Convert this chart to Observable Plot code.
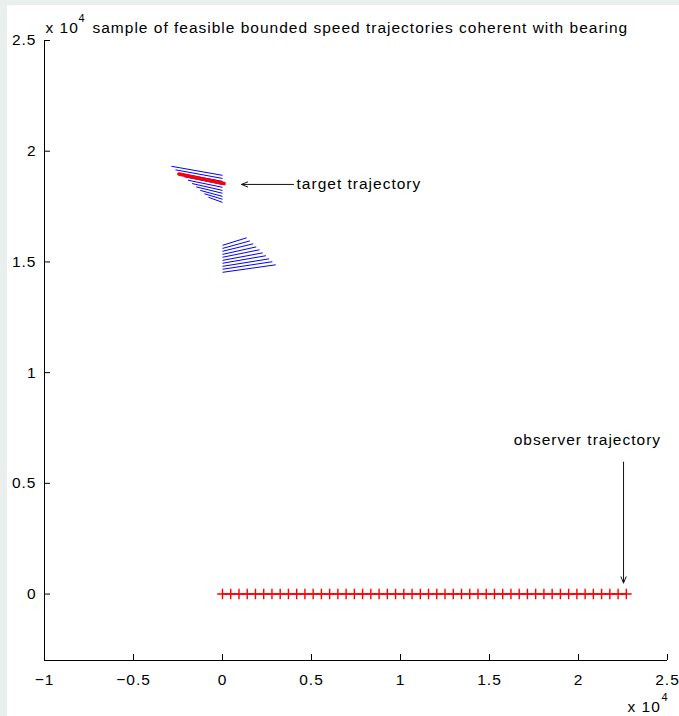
<!DOCTYPE html>
<html>
<head>
<meta charset="utf-8">
<script src="https://cdn.jsdelivr.net/npm/d3@7"></script>
<script src="https://cdn.jsdelivr.net/npm/@observablehq/plot@0.6"></script>
<style>
  html, body { margin: 0; padding: 0; width: 679px; height: 716px; overflow: hidden; background: #e9efed; }
  #panel { position: absolute; left: 7px; top: 5px; width: 672px; height: 711px; background: #ffffff; }
  #chart { position: absolute; left: 0; top: 0; }
</style>
</head>
<body>
<div id="panel"></div>
<div id="chart"></div>
<script>
// ---- axis ticks (metres; labels in units of 10^4) ----
const xTicks = [-10000, -5000, 0, 5000, 10000, 15000, 20000, 25000];
const xTickLabels = ["−1", "−0.5", "0", "0.5", "1", "1.5", "2", "2.5"];
const yTicks = [0, 5000, 10000, 15000, 20000, 25000];
const yTickLabels = ["0", "0.5", "1", "1.5", "2", "2.5"];

// ---- observer trajectory (red, + markers) ----
const observerX = [0, 463, 926, 1389, 1852, 2315, 2778, 3241, 3704, 4167,
  4630, 5093, 5556, 6019, 6482, 6945, 7408, 7871, 8334, 8797,
  9260, 9723, 10186, 10649, 11112, 11575, 12038, 12501, 12964, 13427,
  13890, 14353, 14816, 15279, 15742, 16205, 16668, 17131, 17594, 18057,
  18520, 18983, 19446, 19909, 20372, 20835, 21298, 21761, 22224, 22687];
const observerY = 0;

// ---- true target trajectory (thick red) ----
const targetX = [-2450, 90];
const targetY = [18970, 18540];

// ---- upper sample of feasible trajectories (blue) ----
const upperStartX = [-2870, -2640, -2400, -2170, -1940, -1710, -1480, -1250, -1020, -790];
const upperStartY = [19320, 19160, 19000, 18850, 18690, 18540, 18390, 18230, 18080, 17920];
const upperEndX   = [0, 0, 0, 0, 0, 0, 0, 0, 0, 0];
const upperEndY   = [18910, 18770, 18640, 18500, 18370, 18230, 18100, 17960, 17830, 17690];

// ---- lower sample of feasible trajectories (blue) ----
const lowerStartX = [0, 0, 0, 0, 0, 0, 0, 0, 0, 0];
const lowerStartY = [15750, 15610, 15480, 15340, 15210, 15070, 14940, 14800, 14670, 14530];
const lowerEndX   = [1360, 1540, 1720, 1900, 2080, 2260, 2440, 2620, 2800, 2990];
const lowerEndY   = [16090, 15950, 15820, 15680, 15550, 15410, 15280, 15140, 15010, 14870];

// ---- annotations ----
const arrowFromX = [3990, 22530];
const arrowFromY = [18500, 5960];
const arrowToX   = [1070, 22530];
const arrowToY   = [18500, 500];
const targetLabel = {t: "target trajectory", x: 4160, y: 18500};
const observerLabel = {t: "observer trajectory", x: 20500, y: 6950};
const titleText = "sample of feasible bounded speed trajectories coherent with bearing";
const exponentBase = "x 10";
const exponentPower = "4";

// ---- tables built from the arrays ----
const observer = observerX.map(x => ({x, y: observerY}));
const target = targetX.map((x, i) => ({x, y: targetY[i]}));
const upper = upperStartX.map((x1, i) => ({x1, y1: upperStartY[i], x2: upperEndX[i], y2: upperEndY[i]}));
const lower = lowerStartX.map((x1, i) => ({x1, y1: lowerStartY[i], x2: lowerEndX[i], y2: lowerEndY[i]}));
const arrows = arrowFromX.map((x1, i) => ({x1, y1: arrowFromY[i], x2: arrowToX[i], y2: arrowToY[i]}));

const font = "'Liberation Sans', Arial, Helvetica, sans-serif";

const chart = Plot.plot({
  width: 679,
  height: 716,
  marginLeft: 44,
  marginRight: 12,
  marginTop: 40,
  marginBottom: 56,
  x: {domain: [-10000, 25000], label: null},
  y: {domain: [-3000, 25000], label: null},
  style: {background: "transparent", fontFamily: font, fontSize: "15.5px", color: "#000", overflow: "visible", letterSpacing: "1px"},
  marks: [
    Plot.link(upper, {x1: "x1", y1: "y1", x2: "x2", y2: "y2", stroke: "#0000ff", strokeWidth: 1}),
    Plot.link(lower, {x1: "x1", y1: "y1", x2: "x2", y2: "y2", stroke: "#0000ff", strokeWidth: 1}),
    Plot.line(target, {x: "x", y: "y", stroke: "#ff0000", strokeWidth: 3.5, strokeLinecap: "round"}),
    Plot.line(observer, {x: "x", y: "y", stroke: "#ff0000", strokeWidth: 1.6}),
    Plot.dot(observer, {x: "x", y: "y", symbol: "plus", r: 3.5, stroke: "#ff0000", strokeWidth: 1.4}),
    Plot.arrow(arrows, {x1: "x1", y1: "y1", x2: "x2", y2: "y2", stroke: "#111", strokeWidth: 1, headLength: 10, headAngle: 45}),
    Plot.text([targetLabel], {x: "x", y: "y", text: "t", textAnchor: "start", lineAnchor: "middle", fill: "#000"}),
    Plot.text([observerLabel], {x: "x", y: "y", text: "t", textAnchor: "middle", lineAnchor: "middle", fill: "#000"}),
    Plot.ruleX([-10000], {stroke: "#000", strokeWidth: 1}),
    Plot.ruleY([-3000], {stroke: "#000", strokeWidth: 1}),
    Plot.axisX(xTicks, {anchor: "bottom", tickSize: -6, tickPadding: 19.5, tickFormat: d => xTickLabels[xTicks.indexOf(d)], label: null, stroke: "#000", fill: "#000"}),
    Plot.axisY(yTicks, {anchor: "left", tickSize: -6, tickPadding: 14, tickFormat: d => yTickLabels[yTicks.indexOf(d)], label: null, stroke: "#000", fill: "#000"}),
    // exponent and title at top
    Plot.text([exponentBase], {frameAnchor: "top-left", text: d => d, textAnchor: "start", lineAnchor: "bottom", dx: 1, dy: -8}),
    Plot.text([exponentPower], {frameAnchor: "top-left", text: d => d, textAnchor: "start", lineAnchor: "bottom", dx: 34, dy: -19, fontSize: 11}),
    Plot.text([titleText], {frameAnchor: "top-left", text: d => d, textAnchor: "start", lineAnchor: "bottom", dx: 48, dy: -8}),
    // exponent at bottom right
    Plot.text([exponentBase], {frameAnchor: "bottom-right", text: d => d, textAnchor: "start", lineAnchor: "bottom", dx: -40, dy: 51}),
    Plot.text([exponentPower], {frameAnchor: "bottom-right", text: d => d, textAnchor: "start", lineAnchor: "bottom", dx: -6, dy: 40, fontSize: 11})
  ]
});
document.getElementById("chart").appendChild(chart);
</script>
</body>
</html>
